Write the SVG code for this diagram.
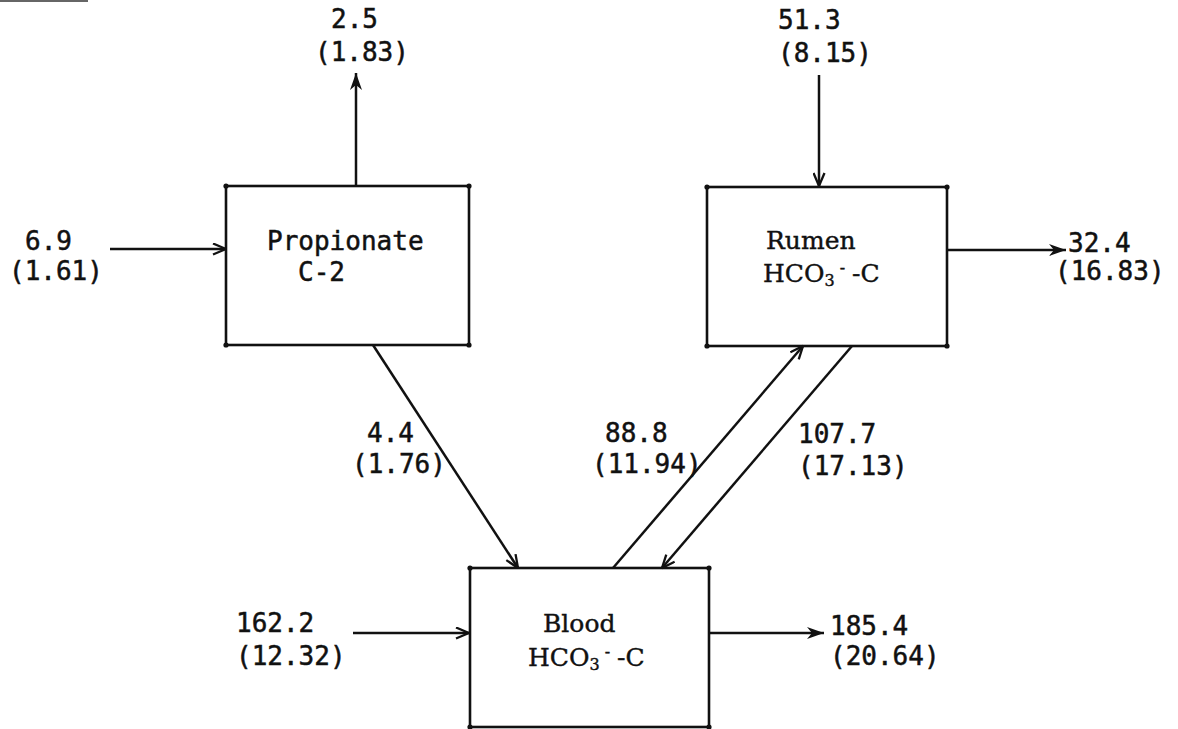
<svg xmlns="http://www.w3.org/2000/svg" width="1178" height="729" viewBox="0 0 1178 729">
  <defs>
    <style>
      .box { fill: none; stroke: #111; stroke-width: 2.6; }
      .edge { fill: none; stroke: #111; stroke-width: 2.5; }
      .num { font-family: "DejaVu Sans Mono", "Liberation Mono", monospace; font-size: 26px; fill: #111; stroke: #111; stroke-width: 0.5; }
      .lab { font-family: "DejaVu Serif", "Liberation Serif", serif; font-size: 25px; fill: #111; stroke: #111; stroke-width: 0.4; }
      .small { font-size: 16px; }
      .dot { fill: #111; }
    </style>
    <!-- open V arrowhead -->
    <marker id="vee" viewBox="0 0 15 13" refX="14" refY="6.5" markerWidth="15" markerHeight="13" markerUnits="userSpaceOnUse" orient="auto">
      <path d="M1,1 L14,6.5 L1,12" fill="none" stroke="#111" stroke-width="2.3"/>
    </marker>
    <!-- solid arrowhead -->
    <marker id="solid" viewBox="0 0 18 14" refX="17" refY="7" markerWidth="18" markerHeight="14" markerUnits="userSpaceOnUse" orient="auto">
      <path d="M0,1 L17,7 L0,13 L5,7 Z" fill="#111"/>
    </marker>
  </defs>

  <rect width="1178" height="729" fill="#fff"/>
  <!-- edge mark along the top left -->
  <rect x="0" y="0" width="88" height="2" fill="#666"/>

  <!-- connectors -->
  <g id="connectors">
    <line class="edge" x1="356" y1="186" x2="356" y2="73" marker-end="url(#solid)"/>
    <line class="edge" x1="819" y1="75" x2="819" y2="186" marker-end="url(#vee)"/>
    <line class="edge" x1="110" y1="249" x2="226" y2="249" marker-end="url(#vee)"/>
    <line class="edge" x1="947" y1="250" x2="1066" y2="250" marker-end="url(#solid)"/>
    <line class="edge" x1="373" y1="345" x2="518" y2="568" marker-end="url(#vee)"/>
    <line class="edge" x1="613" y1="568" x2="803" y2="346" marker-end="url(#vee)"/>
    <line class="edge" x1="852" y1="346" x2="662" y2="568" marker-end="url(#vee)"/>
    <line class="edge" x1="353" y1="633" x2="469" y2="633" marker-end="url(#vee)"/>
    <line class="edge" x1="709" y1="633" x2="824" y2="633" marker-end="url(#solid)"/>
  </g>

  <!-- flow labels -->
  <g id="flow-labels">
    <text class="num" x="331" y="28">2.5</text>
    <text class="num" x="315" y="61">(1.83)</text>
    <text class="num" x="778" y="29">51.3</text>
    <text class="num" x="778" y="62">(8.15)</text>
    <text class="num" x="25" y="250">6.9</text>
    <text class="num" x="9" y="280">(1.61)</text>
    <text class="num" x="1068" y="252">32.4</text>
    <text class="num" x="1055" y="280">(16.83)</text>
    <text class="num" x="367" y="442">4.4</text>
    <text class="num" x="352" y="473">(1.76)</text>
    <text class="num" x="605" y="442">88.8</text>
    <text class="num" x="592" y="473">(11.94)</text>
    <text class="num" x="798" y="443">107.7</text>
    <text class="num" x="798" y="475">(17.13)</text>
    <text class="num" x="236" y="632">162.2</text>
    <text class="num" x="236" y="665">(12.32)</text>
    <text class="num" x="830" y="635">185.4</text>
    <text class="num" x="830" y="665">(20.64)</text>
  </g>

  <!-- Propionate C-2 pool -->
  <g id="propionate">
    <rect class="box" x="226" y="186" width="243" height="159"/>
    <circle class="dot" cx="226" cy="186" r="2.6"/>
    <circle class="dot" cx="469" cy="186" r="2.6"/>
    <circle class="dot" cx="226" cy="345" r="2.6"/>
    <circle class="dot" cx="469" cy="345" r="2.6"/>
    <text class="num" x="267" y="250">Propionate</text>
    <text class="num" x="298" y="281">C-2</text>
  </g>

  <!-- Rumen bicarbonate pool -->
  <g id="rumen">
    <rect class="box" x="707" y="187" width="240" height="159"/>
    <circle class="dot" cx="707" cy="187" r="2.6"/>
    <circle class="dot" cx="947" cy="187" r="2.6"/>
    <circle class="dot" cx="707" cy="346" r="2.6"/>
    <circle class="dot" cx="947" cy="346" r="2.6"/>
    <text class="lab" x="766" y="249">Rumen</text>
    <text class="lab" x="763" y="282">HCO<tspan class="small" dy="4">3</tspan><tspan class="small" dx="5" dy="-13">-</tspan><tspan dy="9" dx="7">-C</tspan></text>
  </g>

  <!-- Blood bicarbonate pool -->
  <g id="blood">
    <rect class="box" x="470" y="568" width="239" height="159"/>
    <circle class="dot" cx="470" cy="568" r="2.6"/>
    <circle class="dot" cx="709" cy="568" r="2.6"/>
    <circle class="dot" cx="470" cy="727" r="2.6"/>
    <circle class="dot" cx="709" cy="727" r="2.6"/>
    <text class="lab" x="543" y="632">Blood</text>
    <text class="lab" x="528" y="666">HCO<tspan class="small" dy="4">3</tspan><tspan class="small" dx="5" dy="-13">-</tspan><tspan dy="9" dx="7">-C</tspan></text>
  </g>
</svg>
